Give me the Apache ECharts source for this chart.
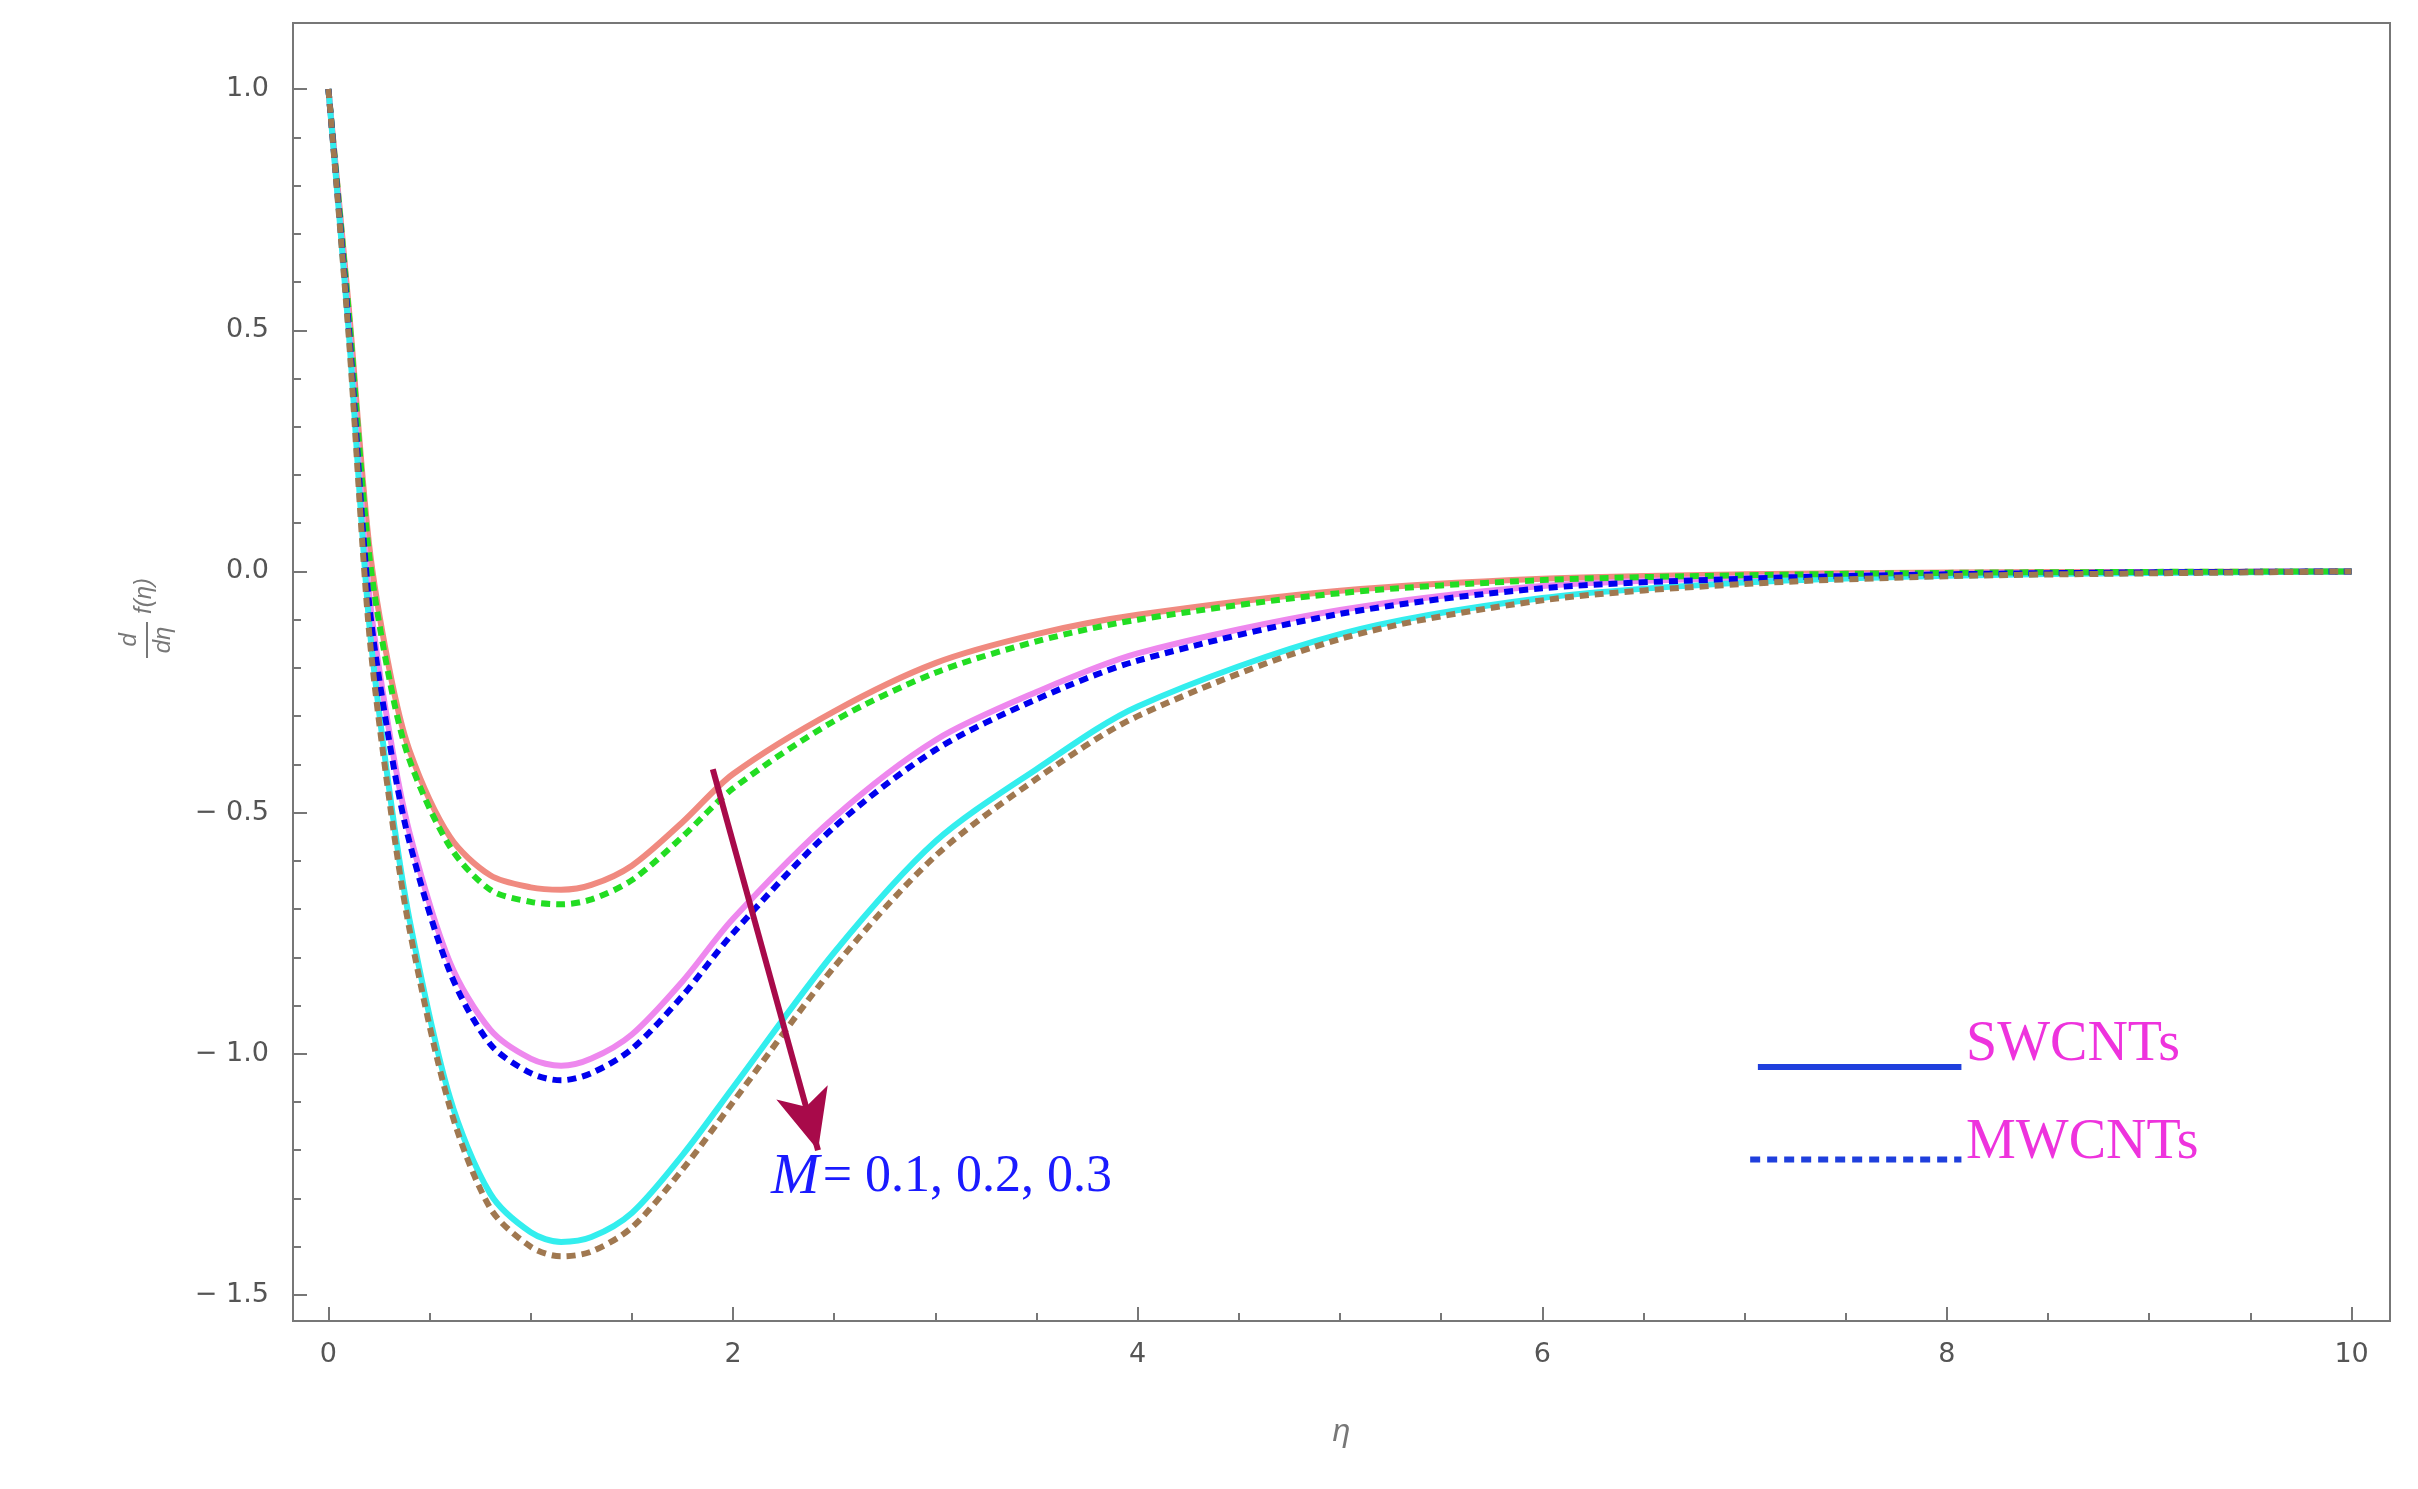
<!DOCTYPE html><html><head><meta charset="utf-8">
<script src="https://cdn.jsdelivr.net/npm/echarts@6/dist/echarts.min.js"></script>
<style>html,body{margin:0;background:#fff}#c{width:2418px;height:1489px}</style></head><body><div id="c"></div>
<script>
const eta=[0,0.1,0.2,0.3,0.4,0.6,0.8,1.0,1.15,1.3,1.5,1.75,2.0,2.5,3.0,3.5,4,5,6,7,8,9,10];
const sw1=[1,0.55,0.06,-0.2,-0.37,-0.55,-0.63,-0.655,-0.66,-0.65,-0.61,-0.52,-0.42,-0.29,-0.19,-0.13,-0.09,-0.04,-0.015,-0.006,-0.002,-0.001,0];
const mw1=[1,0.54,0.04,-0.22,-0.39,-0.57,-0.66,-0.685,-0.69,-0.68,-0.64,-0.55,-0.45,-0.31,-0.21,-0.145,-0.1,-0.045,-0.018,-0.008,-0.003,-0.001,0];
const sw2=[1,0.52,-0.04,-0.33,-0.54,-0.81,-0.95,-1.01,-1.025,-1.01,-0.96,-0.85,-0.72,-0.51,-0.35,-0.25,-0.17,-0.08,-0.03,-0.013,-0.005,-0.002,0];
const mw2=[1,0.51,-0.06,-0.35,-0.56,-0.83,-0.98,-1.04,-1.055,-1.04,-0.99,-0.88,-0.75,-0.53,-0.37,-0.265,-0.185,-0.088,-0.035,-0.015,-0.006,-0.002,0];
const sw3=[1,0.5,-0.1,-0.45,-0.72,-1.09,-1.29,-1.37,-1.39,-1.38,-1.33,-1.21,-1.07,-0.79,-0.56,-0.41,-0.28,-0.13,-0.055,-0.023,-0.009,-0.003,0];
const mw3=[1,0.49,-0.12,-0.47,-0.74,-1.11,-1.32,-1.40,-1.42,-1.41,-1.36,-1.24,-1.1,-0.82,-0.59,-0.43,-0.3,-0.14,-0.06,-0.026,-0.01,-0.004,0];
const xTicks=[0,2,4,6,8,10];
const yTicks=[-1.5,-1.0,-0.5,0.0,0.5,1.0];
const xMinor=[];for(let v=0.5;v<10;v+=0.5)if(v%2)xMinor.push(v);
const yMinor=[];for(let v=-1.4;v<1.1;v+=0.1){const r=Math.round(v*10)/10;if(Math.abs(r*2-Math.round(r*2))>1e-6)yMinor.push(r);}
const pts=a=>eta.map((x,i)=>[x,a[i]]);
const ch=echarts.init(document.getElementById('c'));
const mk=(d,c,dash)=>({type:'line',data:pts(d),smooth:0.3,showSymbol:false,lineStyle:{color:c,width:6,type:dash?[9,6]:'solid'},z:dash?3:2});
const lbl={color:'#555',fontSize:27,fontFamily:'DejaVu Sans'};
const tk=(len)=>({inside:true,length:len,lineStyle:{color:'#777',width:2}});
ch.setOption({animation:false,
grid:{left:293,right:28,top:23,bottom:168,show:true,borderColor:'#777',borderWidth:2},
xAxis:[{type:'value',min:-0.175,max:10.19,splitLine:{show:false},axisLine:{show:false,onZero:false},
 axisTick:Object.assign(tk(14),{customValues:xTicks}),
 axisLabel:Object.assign({customValues:xTicks,margin:20},lbl),
 name:'η',nameLocation:'middle',nameGap:95,nameTextStyle:{color:'#777',fontSize:32,fontStyle:'italic'}},
 {type:'value',min:-0.175,max:10.19,position:'bottom',splitLine:{show:false},axisLine:{show:false,onZero:false},axisLabel:{show:false},
 axisTick:Object.assign(tk(8),{customValues:xMinor})}],
yAxis:[{type:'value',min:-1.554,max:1.137,splitLine:{show:false},axisLine:{show:false,onZero:false},
 axisTick:Object.assign(tk(14),{customValues:yTicks}),
 axisLabel:Object.assign({customValues:yTicks,margin:24,formatter:v=>v.toFixed(1).replace('-','− ')},lbl)},
 {type:'value',min:-1.554,max:1.137,position:'left',splitLine:{show:false},axisLine:{show:false,onZero:false},axisLabel:{show:false},
 axisTick:Object.assign(tk(8),{customValues:yMinor})}],
series:[mk(sw1,'#f08a80',0),mk(mw1,'#22dd22',1),mk(sw2,'#ee88ee',0),mk(mw2,'#0000ee',1),mk(sw3,'#33eeee',0),mk(mw3,'#a07850',1),
 {type:'line',data:[],markLine:{silent:true,symbol:['none','arrow'],symbolSize:[40,60],lineStyle:{color:'#a80a4a',width:6,type:'solid'},label:{show:false},
  data:[[{coord:[1.9,-0.41]},{coord:[2.42,-1.2]}]]}}],
graphic:[
 {type:'text',left:500*1.542,top:745*1.542,style:{rich:{m:{fontStyle:'italic',fontFamily:'Liberation Serif',fontSize:58,fill:'#1a1aff'},n:{fontFamily:'Liberation Serif',fontSize:52,fill:'#1a1aff'}},text:'{m|M} {n|= 0.1, 0.2, 0.3}'}},
 {type:'line',shape:{x1:1140*1.542,y1:692*1.542,x2:1272*1.542,y2:692*1.542},style:{stroke:'#1f3fdd',lineWidth:6}},
 {type:'line',shape:{x1:1135*1.542,y1:752*1.542,x2:1272*1.542,y2:752*1.542},style:{stroke:'#1f3fdd',lineWidth:6,lineDash:[10,7]}},
 {type:'text',left:1275*1.542,top:660*1.542,style:{text:'SWCNTs',fontFamily:'Liberation Serif',fontSize:56,fill:'#ee33dd'}},
 {type:'text',left:1275*1.542,top:723*1.542,style:{text:'MWCNTs',fontFamily:'Liberation Serif',fontSize:56,fill:'#ee33dd'}},
 {type:'group',x:145,y:415*1.542,rotation:Math.PI/2,children:[
  {type:'text',x:0,y:-28,style:{text:'d',fontStyle:'italic',fontSize:24,fill:'#777',align:'center'}},
  {type:'line',shape:{x1:-18,y1:2,x2:18,y2:2},style:{stroke:'#777',lineWidth:2}},
  {type:'text',x:0,y:6,style:{text:'dη',fontStyle:'italic',fontSize:24,fill:'#777',align:'center'}},
  {type:'text',x:26,y:-13,style:{text:'f(η)',fontStyle:'italic',fontSize:24,fill:'#777'}}]}
]});
</script></body></html>
